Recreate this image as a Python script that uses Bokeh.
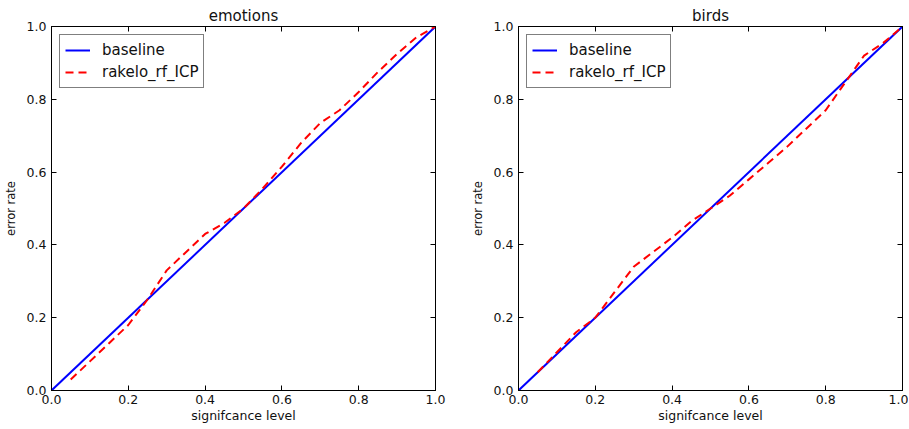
from bokeh.plotting import figure
from bokeh.layouts import row
from bokeh.models import FixedTicker, LinearAxis, Legend, LegendItem, Range1d
from bokeh.embed import file_html
from bokeh.resources import INLINE

# ---- data ----
titles = ["emotions", "birds"]
baseline_x = [0.0, 1.0]
baseline_y = [0.0, 1.0]
sig_levels = [0.05, 0.10, 0.15, 0.20, 0.25, 0.30, 0.35, 0.40, 0.45, 0.50,
              0.55, 0.60, 0.65, 0.70, 0.75, 0.80, 0.85, 0.90, 0.95, 1.00]
emotions_err = [0.03, 0.08, 0.13, 0.18, 0.25, 0.33, 0.38, 0.43, 0.46, 0.50,
                0.555, 0.615, 0.68, 0.735, 0.77, 0.82, 0.875, 0.925, 0.97, 1.00]
birds_err = [0.05, 0.105, 0.16, 0.20, 0.27, 0.34, 0.38, 0.42, 0.465, 0.50,
             0.535, 0.58, 0.625, 0.67, 0.72, 0.77, 0.845, 0.92, 0.955, 1.00]
tick_values = [0.0, 0.2, 0.4, 0.6, 0.8, 1.0]
tick_labels = ["0.0", "0.2", "0.4", "0.6", "0.8", "1.0"]
x_label = "signifcance level"
y_label = "error rate"
series_names = ["baseline", "rakelo_rf_ICP"]

FONT = "DejaVu Sans"
TXT = "#111111"
overrides = {v: l for v, l in zip(tick_values, tick_labels)}


def style_axis(ax, show_labels):
    ax.ticker = FixedTicker(ticks=tick_values)
    ax.major_label_overrides = overrides
    ax.major_tick_in = 5
    ax.major_tick_out = 0
    ax.minor_tick_in = 0
    ax.minor_tick_out = 0
    ax.axis_line_color = "black"
    ax.major_tick_line_color = "black"
    ax.major_label_text_color = TXT
    ax.axis_label_text_color = TXT
    if not show_labels:
        ax.major_label_text_font_size = "0px"
        ax.major_label_standoff = 0
        ax.major_label_text_color = None


def make_plot(title, err, left, right):
    p = figure(frame_width=384, frame_height=364,
               x_range=Range1d(0, 1), y_range=Range1d(0, 1),
               output_backend="svg", toolbar_location=None,
               min_border_left=left, min_border_right=right,
               min_border_top=26, min_border_bottom=20,
               background_fill_color="white", border_fill_color="white")
    p.title.text = title
    p.title.align = "center"
    p.title.text_font = FONT
    p.title.text_font_size = "15px"
    p.title.text_font_style = "normal"
    p.title.text_color = TXT
    p.title.offset = 0
    p.title.standoff = 4
    p.xgrid.visible = False
    p.ygrid.visible = False
    p.outline_line_color = "black"
    p.outline_line_width = 1

    style_axis(p.xaxis[0], True)
    style_axis(p.yaxis[0], True)
    p.xaxis[0].major_label_text_font = FONT
    p.xaxis[0].major_label_text_font_size = "12.5px"
    p.xaxis[0].major_label_standoff = 4
    p.xaxis[0].axis_label = x_label
    p.xaxis[0].axis_label_text_font = FONT
    p.xaxis[0].axis_label_text_font_size = "12.5px"
    p.xaxis[0].axis_label_text_font_style = "normal"
    p.xaxis[0].axis_label_standoff = 1
    p.yaxis[0].major_label_text_font = FONT
    p.yaxis[0].major_label_text_font_size = "12.5px"
    p.yaxis[0].major_label_standoff = 5
    p.yaxis[0].axis_label = y_label
    p.yaxis[0].axis_label_text_font = FONT
    p.yaxis[0].axis_label_text_font_size = "11.5px"
    p.yaxis[0].axis_label_text_font_style = "normal"
    p.yaxis[0].axis_label_standoff = 6

    top = LinearAxis()
    style_axis(top, False)
    p.add_layout(top, "above")
    rt = LinearAxis()
    style_axis(rt, False)
    p.add_layout(rt, "right")

    r1 = p.line(baseline_x, baseline_y, line_color="#0000ff", line_width=2)
    r2 = p.line(sig_levels, err, line_color="#ff0000", line_width=2,
                line_dash="8 5")
    leg = Legend(items=[LegendItem(label=series_names[0], renderers=[r1]),
                        LegendItem(label=series_names[1], renderers=[r2])],
                 location="top_left")
    leg.margin = 8
    leg.padding = 5
    leg.spacing = 2
    leg.glyph_width = 25
    leg.label_standoff = 12
    leg.label_text_font = FONT
    leg.label_text_font_size = "15px"
    leg.label_text_color = TXT
    leg.border_line_color = "black"
    leg.border_line_width = 1
    leg.background_fill_alpha = 1
    p.add_layout(leg, "center")
    return p


p1 = make_plot(titles[0], emotions_err, 45, 32)
p2 = make_plot(titles[1], birds_err, 45, 6)
layout = row(p1, p2, spacing=0)

with open("out.html", "w") as f:
    f.write(file_html(layout, INLINE))
